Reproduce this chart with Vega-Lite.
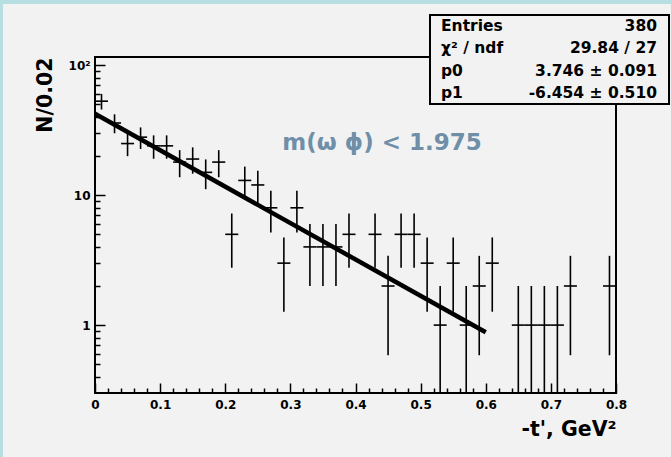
{
  "$schema": "https://vega.github.io/schema/vega-lite/v6.json",
  "autosize": {"type": "none"},
  "width": 521,
  "height": 336,
  "padding": {"left": 95, "top": 57, "right": 55, "bottom": 64},
  "background": "#b7dfe2",
  "config": {"view": {"stroke": null}, "axis": {"labelOverlap": false}},
  "resolve": {"axis": {"x": "independent", "y": "independent"}},
  "data": {"values": [
    {"t": 0.01, "t0": 0.00, "t1": 0.02, "n": 53, "lo": 45.72, "hi": 60.28},
    {"t": 0.03, "t0": 0.02, "t1": 0.04, "n": 36, "lo": 30.0, "hi": 42.0},
    {"t": 0.05, "t0": 0.04, "t1": 0.06, "n": 25, "lo": 20.0, "hi": 30.0},
    {"t": 0.07, "t0": 0.06, "t1": 0.08, "n": 28, "lo": 22.71, "hi": 33.29},
    {"t": 0.09, "t0": 0.08, "t1": 0.10, "n": 24, "lo": 19.10, "hi": 28.90},
    {"t": 0.11, "t0": 0.10, "t1": 0.12, "n": 24, "lo": 19.10, "hi": 28.90},
    {"t": 0.13, "t0": 0.12, "t1": 0.14, "n": 18, "lo": 13.76, "hi": 22.24},
    {"t": 0.15, "t0": 0.14, "t1": 0.16, "n": 19, "lo": 14.64, "hi": 23.36},
    {"t": 0.17, "t0": 0.16, "t1": 0.18, "n": 15, "lo": 11.13, "hi": 18.87},
    {"t": 0.19, "t0": 0.18, "t1": 0.20, "n": 18, "lo": 13.76, "hi": 22.24},
    {"t": 0.21, "t0": 0.20, "t1": 0.22, "n": 5, "lo": 2.764, "hi": 7.236},
    {"t": 0.23, "t0": 0.22, "t1": 0.24, "n": 13, "lo": 9.394, "hi": 16.61},
    {"t": 0.25, "t0": 0.24, "t1": 0.26, "n": 12, "lo": 8.536, "hi": 15.46},
    {"t": 0.27, "t0": 0.26, "t1": 0.28, "n": 8, "lo": 5.172, "hi": 10.83},
    {"t": 0.29, "t0": 0.28, "t1": 0.30, "n": 3, "lo": 1.268, "hi": 4.732},
    {"t": 0.31, "t0": 0.30, "t1": 0.32, "n": 8, "lo": 5.172, "hi": 10.83},
    {"t": 0.33, "t0": 0.32, "t1": 0.34, "n": 4, "lo": 2.0, "hi": 6.0},
    {"t": 0.35, "t0": 0.34, "t1": 0.36, "n": 4, "lo": 2.0, "hi": 6.0},
    {"t": 0.37, "t0": 0.36, "t1": 0.38, "n": 4, "lo": 2.0, "hi": 6.0},
    {"t": 0.39, "t0": 0.38, "t1": 0.40, "n": 5, "lo": 2.764, "hi": 7.236},
    {"t": 0.43, "t0": 0.42, "t1": 0.44, "n": 5, "lo": 2.764, "hi": 7.236},
    {"t": 0.45, "t0": 0.44, "t1": 0.46, "n": 2, "lo": 0.586, "hi": 3.414},
    {"t": 0.47, "t0": 0.46, "t1": 0.48, "n": 5, "lo": 2.764, "hi": 7.236},
    {"t": 0.49, "t0": 0.48, "t1": 0.50, "n": 5, "lo": 2.764, "hi": 7.236},
    {"t": 0.51, "t0": 0.50, "t1": 0.52, "n": 3, "lo": 1.268, "hi": 4.732},
    {"t": 0.53, "t0": 0.52, "t1": 0.54, "n": 1, "lo": 0.001, "hi": 2.0},
    {"t": 0.55, "t0": 0.54, "t1": 0.56, "n": 3, "lo": 1.268, "hi": 4.732},
    {"t": 0.57, "t0": 0.56, "t1": 0.58, "n": 1, "lo": 0.001, "hi": 2.0},
    {"t": 0.59, "t0": 0.58, "t1": 0.60, "n": 2, "lo": 0.586, "hi": 3.414},
    {"t": 0.61, "t0": 0.60, "t1": 0.62, "n": 3, "lo": 1.268, "hi": 4.732},
    {"t": 0.65, "t0": 0.64, "t1": 0.66, "n": 1, "lo": 0.001, "hi": 2.0},
    {"t": 0.67, "t0": 0.66, "t1": 0.68, "n": 1, "lo": 0.001, "hi": 2.0},
    {"t": 0.69, "t0": 0.68, "t1": 0.70, "n": 1, "lo": 0.001, "hi": 2.0},
    {"t": 0.71, "t0": 0.70, "t1": 0.72, "n": 1, "lo": 0.001, "hi": 2.0},
    {"t": 0.73, "t0": 0.72, "t1": 0.74, "n": 2, "lo": 0.586, "hi": 3.414},
    {"t": 0.79, "t0": 0.78, "t1": 0.80, "n": 2, "lo": 0.586, "hi": 3.414}
  ]},
  "layer": [
    {
      "data": {"values": [{}]},
      "mark": {"type": "rect", "fill": "#f2f2f2", "clip": false},
      "encoding": {
        "x": {"datum": -0.1413, "type": "quantitative", "axis": null},
        "x2": {"datum": 1.0},
        "y": {"datum": 296.9, "type": "quantitative", "axis": null},
        "y2": {"datum": 0.05}
      }
    },
    {
      "data": {"values": [{}]},
      "mark": {"type": "rect", "fill": null, "stroke": "black", "strokeWidth": 2, "clip": false},
      "encoding": {
        "x": {"datum": 0, "type": "quantitative", "axis": null},
        "x2": {"datum": 0.8},
        "y": {"datum": 0.3, "type": "quantitative", "axis": null},
        "y2": {"datum": 116}
      }
    },
    {
      "mark": {"type": "rule", "color": "black", "strokeWidth": 1.6, "clip": true},
      "encoding": {
        "x": {
          "field": "t", "type": "quantitative",
          "scale": {"domain": [0, 0.8], "nice": false, "zero": false},
          "axis": {
            "orient": "bottom",
            "title": "-t', GeV²",
            "titleAnchor": "end",
            "titleFont": "DejaVu Sans", "titleFontWeight": "bold", "titleFontSize": 20.5, "titleColor": "black",
            "titlePadding": 9,
            "values": [0, 0.1, 0.2, 0.3, 0.4, 0.5, 0.6, 0.7, 0.8],
            "labelExpr": "datum.value == 0 ? '0' : format(datum.value, '.1f')",
            "ticks": false, "tickSize": 0,
            "grid": true, "gridColor": "#000000", "gridWidth": 1.5, "gridOpacity": 1, "gridDash": [10, 326], "gridDashOffset": 10,
            "labelFont": "DejaVu Sans", "labelFontWeight": "bold", "labelFontSize": 12, "labelColor": "black",
            "labelPadding": 6, "labelFlush": false, "labelOverlap": false,
            "domain": false, "zindex": 1
          }
        },
        "y": {
          "field": "lo", "type": "quantitative",
          "scale": {"type": "log", "domain": [0.3, 116], "nice": false},
          "axis": {
            "orient": "left",
            "title": "N/0.02",
            "titleAnchor": "end",
            "titleFont": "DejaVu Sans", "titleFontWeight": "bold", "titleFontSize": 20.5, "titleColor": "black",
            "titlePadding": 13,
            "values": [1, 10, 100],
            "labelExpr": "datum.value == 1 ? '1' : datum.value == 10 ? '10' : '10²'",
            "ticks": false, "tickSize": 0,
            "grid": true, "gridColor": "#000000", "gridWidth": 1.5, "gridOpacity": 1, "gridDash": [10, 2000],
            "labelFont": "DejaVu Sans", "labelFontWeight": "bold", "labelFontSize": 12, "labelColor": "black",
            "labelPadding": 5, "labelFlush": false, "labelOverlap": false,
            "domain": false, "zindex": 1
          }
        },
        "y2": {"field": "hi"}
      }
    },
    {
      "mark": {"type": "rule", "color": "black", "strokeWidth": 1.6},
      "encoding": {
        "x": {
          "field": "t0", "type": "quantitative",
          "axis": {
            "orient": "bottom", "title": null, "labels": false, "domain": false, "ticks": false, "tickSize": 0,
            "grid": true, "gridColor": "#000000", "gridWidth": 1.5, "gridOpacity": 1, "gridDash": [5, 331], "gridDashOffset": 5,
            "values": [0.02,0.04,0.06,0.08,0.12,0.14,0.16,0.18,0.22,0.24,0.26,0.28,0.32,0.34,0.36,0.38,0.42,0.44,0.46,0.48,0.52,0.54,0.56,0.58,0.62,0.64,0.66,0.68,0.72,0.74,0.76,0.78],
            "zindex": 1
          }
        },
        "x2": {"field": "t1"},
        "y": {
          "field": "n", "type": "quantitative",
          "axis": {
            "orient": "left", "title": null, "labels": false, "domain": false, "ticks": false, "tickSize": 0,
            "grid": true, "gridColor": "#000000", "gridWidth": 1.5, "gridOpacity": 1, "gridDash": [5, 2000],
            "values": [0.4,0.5,0.6,0.7,0.8,0.9,2,3,4,5,6,7,8,9,20,30,40,50,60,70,80,90],
            "zindex": 1
          }
        }
      }
    },
    {
      "data": {"values": [{"t": 0, "f": 42.35}, {"t": 0.6, "f": 0.881}]},
      "mark": {"type": "line", "color": "black", "strokeWidth": 4.5},
      "encoding": {
        "x": {"field": "t", "type": "quantitative", "axis": null},
        "y": {"field": "f", "type": "quantitative", "axis": null}
      }
    },
    {
      "data": {"values": [{}]},
      "mark": {"type": "text", "text": "m(ω ϕ) < 1.975", "font": "DejaVu Sans", "fontWeight": "bold", "fontSize": 23, "color": "#6f8fa8", "align": "center", "baseline": "middle"},
      "encoding": {
        "x": {"datum": 0.4407, "type": "quantitative", "axis": null},
        "y": {"datum": 25.3, "type": "quantitative", "axis": null}
      }
    },
    {
      "data": {"values": [{}]},
      "mark": {"type": "rect", "fill": "#f2f2f2", "stroke": "black", "strokeWidth": 2, "clip": false},
      "encoding": {
        "x": {"datum": 0.5144, "type": "quantitative", "axis": null},
        "x2": {"datum": 0.8814},
        "y": {"datum": 244.3, "type": "quantitative", "axis": null},
        "y2": {"datum": 50.4}
      }
    },
    {
      "data": {"values": [{}]},
      "mark": {"type": "text", "text": ["Entries", "χ² / ndf", "p0", "p1"], "lineHeight": 22.5, "font": "DejaVu Sans", "fontWeight": "bold", "fontSize": 15.5, "color": "black", "align": "left", "baseline": "middle", "clip": false},
      "encoding": {
        "x": {"datum": 0.5313, "type": "quantitative", "axis": null},
        "y": {"datum": 202.1, "type": "quantitative", "axis": null}
      }
    },
    {
      "data": {"values": [{}]},
      "mark": {"type": "text", "text": ["380", "29.84 / 27", "3.746 ± 0.091", "-6.454 ± 0.510"], "lineHeight": 22.5, "font": "DejaVu Sans", "fontWeight": "bold", "fontSize": 15.5, "color": "black", "align": "right", "baseline": "middle", "clip": false},
      "encoding": {
        "x": {"datum": 0.8629, "type": "quantitative", "axis": null},
        "y": {"datum": 202.1, "type": "quantitative", "axis": null}
      }
    }
  ]
}
